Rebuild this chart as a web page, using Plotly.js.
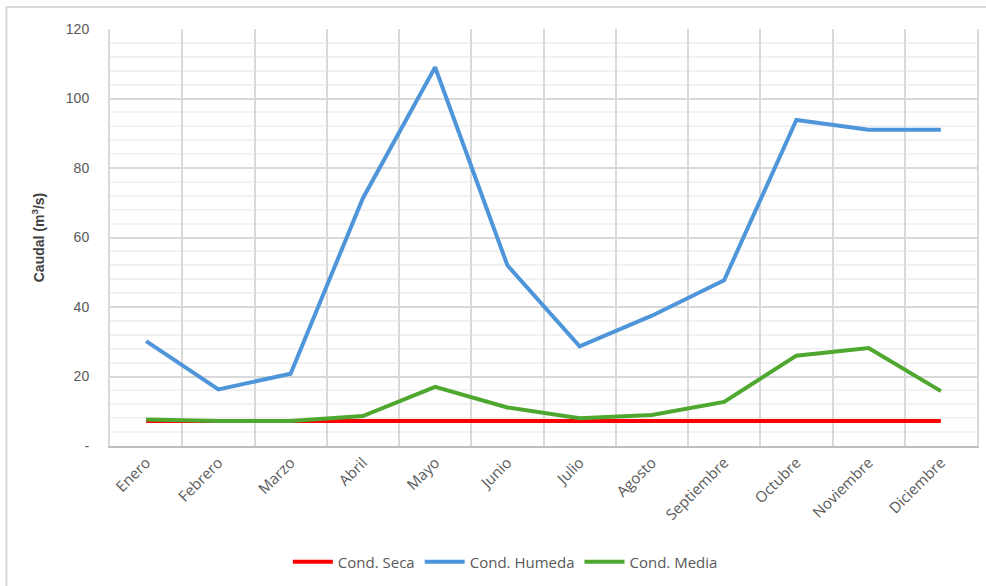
<!DOCTYPE html>
<html>
<head>
<meta charset="utf-8">
<script src="https://cdn.plot.ly/plotly-3.0.1.min.js"></script>
<style>html,body{margin:0;padding:0;background:#fff;}#chart{width:986px;height:586px;}</style>
</head>
<body>
<div id="chart"></div>
<script>
const months = ["Enero","Febrero","Marzo","Abril","Mayo","Junio","Julio","Agosto","Septiembre","Octubre","Noviembre","Diciembre"];
const condSeca = [7.2,7.2,7.2,7.2,7.2,7.2,7.2,7.2,7.2,7.2,7.2,7.2];
const condHumeda = [30.2,16.3,20.8,71.3,109,52,28.7,37.5,47.7,93.8,91,91];
const condMedia = [7.6,7.2,7.2,8.6,17,11.1,8,8.9,12.7,26,28.2,15.8];
const yTickVals = [0,20,40,60,80,100,120];
const yTickText = ["-","20","40","60","80","100","120"];

const traces = [
  {x: months, y: condSeca, name: "Cond. Seca", type: "scatter", mode: "lines", line: {color: "#ff0000", width: 4}},
  {x: months, y: condHumeda, name: "Cond. Humeda", type: "scatter", mode: "lines", line: {color: "#4e95d9", width: 4}},
  {x: months, y: condMedia, name: "Cond. Media", type: "scatter", mode: "lines", line: {color: "#4ea72e", width: 4}}
];

const layout = {
  width: 986, height: 586,
  margin: {l: 110, r: 9, t: 29, b: 139},
  paper_bgcolor: "#ffffff", plot_bgcolor: "#ffffff",
  font: {family: "Open Sans, Liberation Sans, sans-serif", color: "#595959", size: 14},
  showlegend: true,
  legend: {orientation: "h", x: 0.456, xanchor: "center", y: -0.275, yanchor: "middle",
           font: {size: 15, color: "#595959", family: "Open Sans, sans-serif"}, itemwidth: 40, traceorder: "normal"},
  xaxis: {
    type: "category", range: [-0.5, 11.5], tickson: "boundaries", showgrid: true, gridcolor: "#d9d9d9", gridwidth: 2,
    showline: true, linecolor: "#bfbfbf", linewidth: 2, ticks: "", tickangle: -45,
    tickfont: {size: 15, color: "#595959", family: "Open Sans, sans-serif"}, zeroline: false
  },
  yaxis: {
    range: [0, 120], tickvals: yTickVals, ticktext: yTickText, showgrid: true, gridcolor: "#d9d9d9", gridwidth: 2,
    minor: {dtick: 4, showgrid: true, gridcolor: "#f2f2f2", gridwidth: 2},
    zeroline: false, showline: true, linecolor: "#d9d9d9", linewidth: 2, mirror: true, ticks: "",
    ticklabelstandoff: 16,
    tickfont: {size: 14, color: "#595959", family: "Liberation Sans, Arial, sans-serif"},
    title: {text: "<b>Caudal (m<sup>3</sup>/s)</b>", font: {size: 14, color: "#404040", family: "Liberation Sans, Arial, sans-serif"}, standoff: 18}
  },
  shapes: [
    {type: "rect", xref: "paper", yref: "paper", x0: -0.1194, x1: 1.2, y0: -0.6, y1: 1.0526,
     line: {color: "#d9d9d9", width: 2}, fillcolor: "rgba(0,0,0,0)", layer: "below"}
  ]
};

Plotly.newPlot("chart", traces, layout, {displayModeBar: false, staticPlot: true});
</script>
</body>
</html>
